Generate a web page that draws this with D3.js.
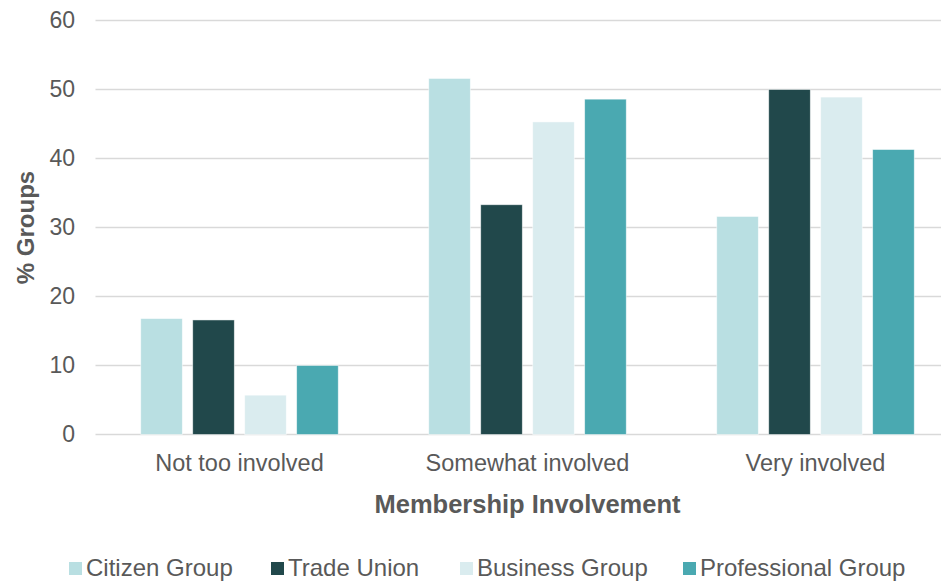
<!DOCTYPE html>
<html>
<head>
<meta charset="utf-8">
<script src="https://cdn.jsdelivr.net/npm/d3@7"></script>
<style>
  html, body { margin: 0; padding: 0; background: #fff; }
  svg { display: block; font-family: "Liberation Sans", Arial, sans-serif; }
</style>
</head>
<body>
<svg id="chart" width="941" height="581"></svg>
<script>
// Membership involvement by group type (% of groups)
const categories = ["Not too involved", "Somewhat involved", "Very involved"];
const seriesNames = ["Citizen Group", "Trade Union", "Business Group", "Professional Group"];
const seriesColors = ["#B9DFE2", "#21484B", "#DAECEF", "#4AA9B1"];
const citizenGroup = [16.8, 51.6, 31.6];
const tradeUnion = [16.6, 33.3, 50.0];
const businessGroup = [5.7, 45.3, 48.9];
const professionalGroup = [10.0, 48.6, 41.3];
const yTicks = [0, 10, 20, 30, 40, 50, 60];

const seriesValues = [citizenGroup, tradeUnion, businessGroup, professionalGroup];

const svg = d3.select("#chart");
const textColor = "#595959";

const plotLeft = 95.5, plotRight = 959.5, plotTop = 20.5, plotBottom = 434.5;

const y = d3.scaleLinear().domain([0, 60]).range([plotBottom, plotTop]);

const groupPad = 1 - 197.5 / 288;
const x0 = d3.scaleBand().domain(categories)
  .range([plotLeft, plotRight])
  .paddingInner(groupPad).paddingOuter(groupPad / 2);
const x1 = d3.scaleBand().domain(seriesNames)
  .range([0, x0.bandwidth()])
  .paddingInner(0.2).paddingOuter(0);

// horizontal gridlines
svg.append("g")
  .selectAll("line")
  .data(yTicks)
  .join("line")
  .attr("x1", plotLeft)
  .attr("x2", plotRight)
  .attr("y1", d => y(d))
  .attr("y2", d => y(d))
  .attr("stroke", "#d9d9d9")
  .attr("stroke-width", 1.3);

// y tick labels
const yAxis = d3.axisLeft(y).tickValues(yTicks).tickSize(0).tickPadding(0);
const yg = svg.append("g").attr("transform", "translate(75,0)").call(yAxis);
yg.select(".domain").remove();
yg.selectAll("text")
  .attr("fill", textColor)
  .style("font-size", "23px")
  .style("font-family", "Liberation Sans, Arial, sans-serif");

// bars
const groups = svg.append("g")
  .selectAll("g")
  .data(categories)
  .join("g")
  .attr("transform", d => `translate(${x0(d)},0)`);

groups.selectAll("rect")
  .data((c, ci) => seriesNames.map((s, si) => ({ series: s, value: seriesValues[si][ci], color: seriesColors[si] })))
  .join("rect")
  .attr("x", d => x1(d.series))
  .attr("width", x1.bandwidth())
  .attr("y", d => y(d.value))
  .attr("height", d => y(0) - y(d.value))
  .attr("fill", d => d.color)
  .attr("stroke", "#ffffff")
  .attr("stroke-opacity", 0.6)
  .attr("stroke-width", 0.8);

// category labels
const xAxis = d3.axisBottom(x0).tickSize(0).tickPadding(0);
const xg = svg.append("g").attr("transform", "translate(0,454)").call(xAxis);
xg.select(".domain").remove();
xg.selectAll("text")
  .attr("fill", textColor)
  .attr("dy", "0.71em")
  .style("font-size", "23.5px")
  .style("font-family", "Liberation Sans, Arial, sans-serif");

// axis titles
svg.append("text")
  .attr("x", (x0(categories[0]) + x0(categories[2]) + x0.bandwidth()) / 2)
  .attr("y", 513)
  .attr("text-anchor", "middle")
  .attr("fill", textColor)
  .style("font-size", "25.5px")
  .style("font-weight", "bold")
  .text("Membership Involvement");

svg.append("text")
  .attr("transform", `translate(34,${(plotTop + plotBottom) / 2}) rotate(-90)`)
  .attr("text-anchor", "middle")
  .attr("fill", textColor)
  .style("font-size", "24px")
  .style("font-weight", "bold")
  .text("% Groups");

// legend
const legendX = [69, 271, 460, 683];
const legend = svg.append("g")
  .selectAll("g")
  .data(seriesNames)
  .join("g")
  .attr("transform", (d, i) => `translate(${legendX[i]},0)`);

legend.append("rect")
  .attr("x", 0)
  .attr("y", 562)
  .attr("width", 13)
  .attr("height", 13)
  .attr("fill", (d, i) => seriesColors[i]);

legend.append("text")
  .attr("x", 17)
  .attr("y", 576)
  .attr("fill", textColor)
  .style("font-size", "24px")
  .text(d => d);
</script>
</body>
</html>
